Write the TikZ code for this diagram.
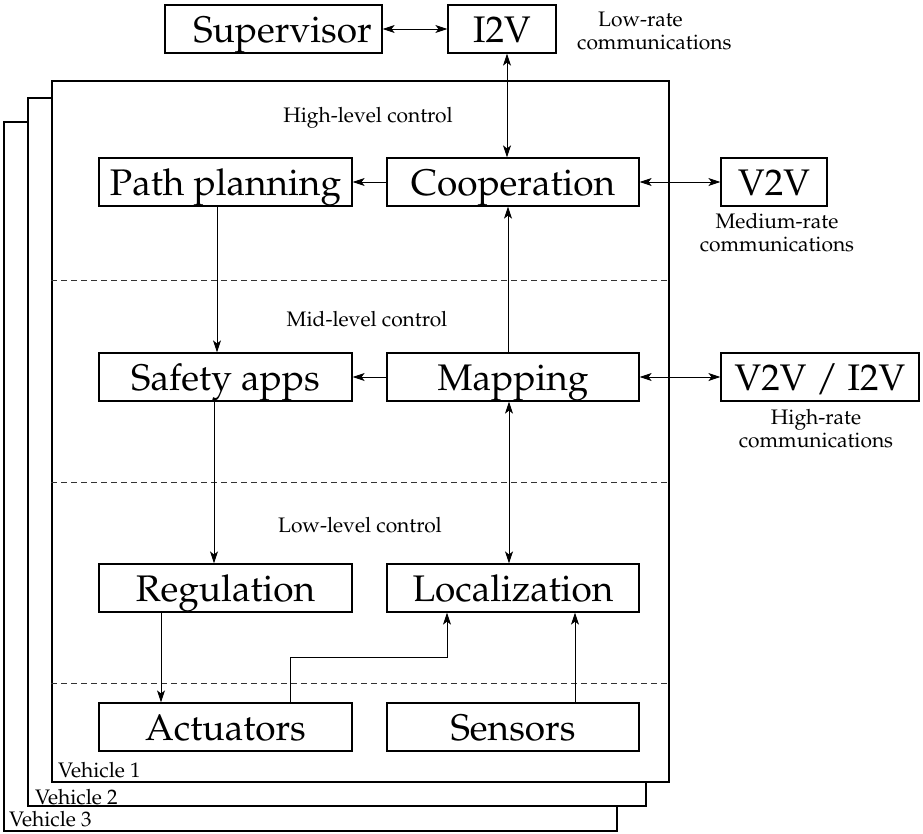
\documentclass[tikz,border=0pt]{standalone}
\usepackage[T1]{fontenc}
\usepackage{mathpazo}
\usetikzlibrary{arrows.meta}

\begin{document}
\begin{tikzpicture}[x=1pt,y=-1pt,
  big/.style={font=\fontsize{37}{44}\selectfont},
  small/.style={font=\fontsize{21}{23}\selectfont, inner sep=0pt},
  box/.style={draw, line width=1.2pt, big, inner sep=0pt, minimum height=48pt,
              text height=37pt, text depth=10pt},
  frame/.style={draw, line width=1.2pt, fill=white, inner sep=0pt},
  sep/.style={dash pattern=on 6pt off 4pt, line width=0.9pt, black!80},
  tip/.tip={Stealth[length=12pt,width=8pt,inset=3pt]},
  arr/.style={-tip, line width=1pt},
  dbl/.style={tip-tip, line width=1pt},
]
\useasboundingbox (0,0) rectangle (923,833);

% stacked vehicle frames, back to front
\node[frame, minimum width=613pt, minimum height=709pt] (veh3) at (310.5,476.5) {};
\node[small, anchor=base west] (lab3) at (9,826) {Vehicle 3};
\node[frame, minimum width=618pt, minimum height=708pt] (veh2) at (337,452) {};
\node[small, anchor=base west] (lab2) at (35,804) {Vehicle 2};
\node[frame, minimum width=617pt, minimum height=701pt] (veh1) at (360.5,431.5) {};
\node[small, anchor=base west] (lab1) at (58,777) {Vehicle 1};

% control level separators
\draw[sep] (veh1.west |- 0,280) -- (veh1.east |- 0,280);
\draw[sep] (veh1.west |- 0,482) -- (veh1.east |- 0,482);
\draw[sep] (veh1.west |- 0,683) -- (veh1.east |- 0,683);

% level titles
\node[small] (hlc) at (368,118) {High-level control};
\node[small] (mlc) at (367,319) {Mid-level control};
\node[small] (llc) at (360,525) {Low-level control};

% infrastructure
\node[box, minimum width=217pt] (sup) at (273.5,29) {\hspace*{18pt}Supervisor};
\node[box, minimum width=108pt] (itov) at (502,29) {I2V};
\node[small, align=left, anchor=west] (lowrate) at (577,31) {\hspace*{21pt}Low-rate\\communications};

% high level
\node[box, minimum width=253pt] (path) at (225.5,182) {Path planning};
\node[box, minimum width=252pt] (coop) at (513,182) {Cooperation};
\node[box, minimum width=106pt] (v2v) at (774,182) {V2V};
\node[small, align=center] (medrate) at (777,233) {Medium-rate\\communications};

% mid level
\node[box, minimum width=253pt] (safety) at (225.5,377) {Safety apps};
\node[box, minimum width=252pt] (mapping) at (513,377) {Mapping};
\node[box, minimum width=198pt] (vi) at (820,377) {V2V / I2V};
\node[small, align=center] (highrate) at (816,429) {High-rate\\communications};

% low level
\node[box, minimum width=253pt] (reg) at (225.5,588) {Regulation};
\node[box, minimum width=252pt] (loc) at (513,588) {Localization};

% hardware
\node[box, minimum width=253pt] (act) at (225.5,727) {Actuators};
\node[box, minimum width=252pt] (sens) at (513,727) {Sensors};

% attachment points of the vertical links
\coordinate (i2vdown) at ([xshift=5pt]itov.south);
\coordinate (mapup) at ([xshift=-5pt]mapping.north);
\coordinate (mapdown) at ([xshift=-4pt]mapping.south);
\coordinate (pathdown) at ([xshift=-8.5pt]path.south);
\coordinate (safedown) at ([xshift=-11.5pt]safety.south);
\coordinate (regdown) at ([xshift=-64.5pt]reg.south);
\coordinate (actup) at ([xshift=64.5pt]act.north);
\coordinate (locin) at ([xshift=-66pt]loc.south);
\coordinate (sensup) at ([xshift=62pt]sens.north);

% links
\draw[dbl] (sup.east) -- (itov.west);
\draw[dbl] (i2vdown) -- (i2vdown |- coop.north);
\draw[arr] (coop.west) -- (path.east);
\draw[dbl] (coop.east) -- (v2v.west);
\draw[arr] (mapup) -- (mapup |- coop.south);
\draw[arr] (mapping.west) -- (safety.east);
\draw[dbl] (mapping.east) -- (vi.west);
\draw[dbl] (mapdown) -- (mapdown |- loc.north);
\draw[arr] (pathdown) -- (pathdown |- safety.north);
\draw[arr] (safedown) -- (safedown |- reg.north);
\draw[arr] (regdown) -- (regdown |- act.north);
\draw[arr] (actup) -- ++(0,-45) -| (locin);
\draw[arr] (sensup) -- (sensup |- loc.south);
\end{tikzpicture}
\end{document}
